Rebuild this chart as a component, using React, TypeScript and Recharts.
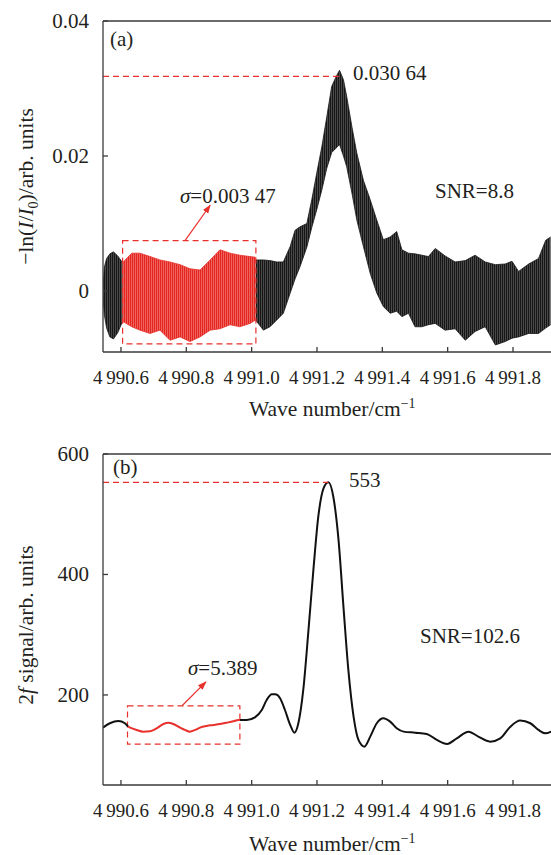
import React from 'react';
import { ComposedChart, Area, Line, XAxis, YAxis, ReferenceLine, ReferenceArea } from 'recharts';

const FONT = "'Liberation Serif', 'Times New Roman', Times, serif";
const INK = '#231f20';
const RED = '#e8302c';
const AXIS = '#3a3a3a';
const TXT = { fontFamily: FONT };

// ---------- shared x axis ----------
const xDomain: [number, number] = [4990.545, 4991.9255];
const xTicks = [4990.6, 4990.8, 4991.0, 4991.2, 4991.4, 4991.6, 4991.8];
const xTickLabels = ['4\u2009990.6', '4\u2009990.8', '4\u2009991.0', '4\u2009991.2', '4\u2009991.4', '4\u2009991.6', '4\u2009991.8'];

// ---------- panel (a): absorbance band (envelope of the fringe-modulated trace) ----------
const absYDomain: [number, number] = [-0.00904, 0.04];
const absYTicks = [0, 0.02, 0.04];
const absYTickLabels = ['0', '0.02', '0.04'];

const absLeftW = [4990.545, 4990.549, 4990.556, 4990.566, 4990.577, 4990.59, 4990.605];
const absLeftHi = [0.0005, 0.0035, 0.0048, 0.0055, 0.0058, 0.0052, 0.0042];
const absLeftLo = [-0.0008, -0.0035, -0.0055, -0.0068, -0.0071, -0.0062, -0.0045];

const absRedW = [4990.605, 4990.633, 4990.658, 4990.689, 4990.719, 4990.75, 4990.781, 4990.811, 4990.842, 4990.873, 4990.903, 4990.934, 4990.964, 4990.995, 4991.012];
const absRedHi = [0.0042, 0.0056, 0.0056, 0.0051, 0.0046, 0.0043, 0.0039, 0.0033, 0.0031, 0.0046, 0.0061, 0.0056, 0.0053, 0.0051, 0.005];
const absRedLo = [-0.0045, -0.0053, -0.0058, -0.0063, -0.0058, -0.0073, -0.0068, -0.0075, -0.0068, -0.0058, -0.0056, -0.005, -0.0053, -0.0048, -0.0043];

const absRightW = [4991.012, 4991.036, 4991.056, 4991.077, 4991.097, 4991.118, 4991.133, 4991.148, 4991.169, 4991.184, 4991.199, 4991.215, 4991.23, 4991.245, 4991.259, 4991.269, 4991.281, 4991.291, 4991.307, 4991.322, 4991.342, 4991.363, 4991.383, 4991.403, 4991.424, 4991.444, 4991.46, 4991.48, 4991.5, 4991.521, 4991.541, 4991.562, 4991.592, 4991.623, 4991.654, 4991.684, 4991.715, 4991.746, 4991.776, 4991.797, 4991.817, 4991.848, 4991.878, 4991.9, 4991.915];
const absRightHi = [0.0046, 0.0046, 0.0045, 0.0043, 0.0043, 0.0066, 0.009, 0.0095, 0.01, 0.0135, 0.0174, 0.0214, 0.0258, 0.0303, 0.0318, 0.0327, 0.0313, 0.0288, 0.0243, 0.0204, 0.0164, 0.0135, 0.0105, 0.0076, 0.008, 0.0088, 0.0061, 0.0056, 0.0055, 0.0053, 0.0051, 0.0063, 0.0052, 0.0043, 0.0045, 0.0053, 0.0043, 0.0039, 0.004, 0.0044, 0.0029, 0.004, 0.0048, 0.0075, 0.008];
const absRightLo = [-0.0043, -0.0058, -0.0053, -0.0043, -0.0033, -0.0003, 0.0018, 0.0036, 0.0065, 0.0094, 0.012, 0.015, 0.0182, 0.0205, 0.0212, 0.0217, 0.02, 0.0184, 0.0145, 0.0105, 0.0066, 0.0026, -0.0003, -0.0023, -0.0033, -0.003, -0.0038, -0.0033, -0.0053, -0.0053, -0.005, -0.0048, -0.0058, -0.0056, -0.0073, -0.006, -0.0053, -0.008, -0.0075, -0.007, -0.0068, -0.0063, -0.0063, -0.0055, -0.005];

const absPeakX = 4991.271;
const absPeakLine = 0.0318;
const absNoiseBox = { x1: 4990.605, x2: 4991.013, y1: -0.00785, y2: 0.00745 };
const absArrow = { x1: 4990.796, y1: 0.00745, x2: 4990.873, y2: 0.0127 };

// ---------- panel (b): 2f signal ----------
const sigYDomain: [number, number] = [50.5, 600];
const sigYTicks = [200, 400, 600];
const sigYTickLabels = ['200', '400', '600'];

const sigLeftW = [4990.545, 4990.566, 4990.592, 4990.612, 4990.622];
const sigLeftV = [145.8, 153, 156.8, 153, 147.4];

const sigRedW = [4990.622, 4990.628, 4990.648, 4990.668, 4990.689, 4990.709, 4990.73, 4990.745, 4990.76, 4990.781, 4990.796, 4990.811, 4990.827, 4990.842, 4990.862, 4990.883, 4990.903, 4990.924, 4990.944, 4990.959, 4990.964];
const sigRedV = [147.4, 145.8, 141.9, 139.1, 139.8, 144.6, 151.8, 154, 151.8, 145.8, 141.9, 139.1, 141.9, 145.8, 148.6, 150.2, 151.8, 154, 156.3, 158.5, 158.5];

const sigRightW = [4990.964, 4990.985, 4991.01, 4991.031, 4991.046, 4991.062, 4991.072, 4991.087, 4991.102, 4991.118, 4991.131, 4991.143, 4991.158, 4991.174, 4991.189, 4991.204, 4991.22, 4991.235, 4991.25, 4991.266, 4991.281, 4991.296, 4991.312, 4991.327, 4991.345, 4991.363, 4991.383, 4991.403, 4991.424, 4991.444, 4991.465, 4991.501, 4991.536, 4991.567, 4991.598, 4991.628, 4991.664, 4991.694, 4991.73, 4991.761, 4991.792, 4991.822, 4991.853, 4991.878, 4991.899, 4991.917];
const sigRightV = [158.5, 158.5, 162.9, 175, 191.7, 201, 201, 194.5, 175, 150.2, 137.4, 153, 208.3, 307.9, 407.5, 496, 543, 553, 529, 457, 346.6, 241.5, 164, 125.3, 114.2, 130.8, 153, 161.3, 155.7, 144.6, 139.1, 137.4, 135.3, 125.3, 118.7, 128, 139.1, 130.8, 122.5, 128, 147.4, 157.4, 153, 141.9, 136.3, 139.1];

const sigPeakX = 4991.235;
const sigPeakLine = 553;
const sigNoiseBox = { x1: 4990.62, x2: 4990.964, y1: 118.2, y2: 182 };
const sigArrow = { x1: 4990.787, y1: 182, x2: 4990.86, y2: 221.6 };

// ---------- builders ----------
const band = (w: number[], lo: number[], hi: number[]) => w.map((x, i) => ({ w: x, band: [lo[i], hi[i]] }));
const series = (w: number[], v: number[]) => w.map((x, i) => ({ w: x, v: v[i] }));

const absLeftData = band(absLeftW, absLeftLo, absLeftHi);
const absRedData = band(absRedW, absRedLo, absRedHi);
const absRightData = band(absRightW, absRightLo, absRightHi);
const sigLeftData = series(sigLeftW, sigLeftV);
const sigRedData = series(sigRedW, sigRedV);
const sigRightData = series(sigRightW, sigRightV);

const labelFor = (ticks: number[], labels: string[], v: number) => {
  let best = 0;
  ticks.forEach((t, i) => { if (Math.abs(t - v) < Math.abs(ticks[best] - v)) best = i; });
  return labels[best];
};

const XTick = (props: any) => {
  const { x, y, payload } = props;
  return (
    <g>
      <line x1={x} y1={y} x2={x} y2={y - 5} stroke={AXIS} strokeWidth={1.3} />
      <text x={x} y={y + 32} textAnchor="middle" style={TXT} fontSize={19} fill={INK}>
        {labelFor(xTicks, xTickLabels, payload.value)}
      </text>
    </g>
  );
};

const makeYTick = (ticks: number[], labels: string[]) => (props: any) => {
  const { x, y, payload } = props;
  return (
    <g>
      <line x1={x} y1={y} x2={x + 5} y2={y} stroke={AXIS} strokeWidth={1.3} />
      <text x={x - 14} y={y + 7} textAnchor="end" style={TXT} fontSize={21} fill={INK}>
        {labelFor(ticks, labels, payload.value)}
      </text>
    </g>
  );
};

const arrowShape = (p: any) => (
  <line x1={p.x1} y1={p.y1} x2={p.x2} y2={p.y2} stroke={RED} strokeWidth={1.2} markerEnd="url(#arrowHeadRed)" />
);

const dashed = { stroke: RED, strokeWidth: 1.2, strokeDasharray: '6 4' };

export default function App() {
  return (
    <div style={{ position: 'absolute', left: 0, top: 0, width: 551, height: 855, overflow: 'hidden', background: '#fff', fontFamily: FONT }}>
      <svg width={0} height={0} style={{ position: 'absolute' }}>
        <defs>
          <pattern id="blackStripes" patternUnits="userSpaceOnUse" width="2" height="8">
            <rect width="2" height="8" fill="#555555" />
            <rect width="1.2" height="8" fill="#161616" />
          </pattern>
          <pattern id="redStripes" patternUnits="userSpaceOnUse" width="2" height="8">
            <rect width="2" height="8" fill="#f1746c" />
            <rect width="1.2" height="8" fill="#e3241f" />
          </pattern>
          <marker id="arrowHeadRed" markerUnits="userSpaceOnUse" markerWidth="9" markerHeight="8" refX="8" refY="4" orient="auto">
            <path d="M0,0.8 L9,4 L0,7.2 z" fill={RED} />
          </marker>
        </defs>
      </svg>

      <div style={{ position: 'absolute', left: 0, top: 0 }}>
        <ComposedChart width={556} height={430} margin={{ top: 21, right: 2, bottom: 0, left: 0 }}>
          <XAxis type="number" dataKey="w" domain={xDomain} ticks={xTicks} allowDataOverflow height={78}
            tickSize={0} tickMargin={0} tickLine={false} tick={<XTick />} axisLine={{ stroke: AXIS, strokeWidth: 1.3 }} />
          <YAxis type="number" domain={absYDomain} ticks={absYTicks} allowDataOverflow width={103}
            tickSize={0} tickMargin={0} tickLine={false} tick={makeYTick(absYTicks, absYTickLabels)} axisLine={{ stroke: AXIS, strokeWidth: 1.3 }} />
          <ReferenceLine y={absYDomain[1]} stroke={AXIS} strokeWidth={1.3} />
          <Area data={absLeftData} dataKey="band" type="linear" stroke="#161616" strokeWidth={0.8} fill="url(#blackStripes)" fillOpacity={1} dot={false} activeDot={false} isAnimationActive={false} />
          <Area data={absRightData} dataKey="band" type="linear" stroke="#161616" strokeWidth={0.8} fill="url(#blackStripes)" fillOpacity={1} dot={false} activeDot={false} isAnimationActive={false} />
          <Area data={absRedData} dataKey="band" type="linear" stroke={RED} strokeWidth={0.8} fill="url(#redStripes)" fillOpacity={1} dot={false} activeDot={false} isAnimationActive={false} />
          <ReferenceLine segment={[{ x: xDomain[0], y: absPeakLine }, { x: absPeakX, y: absPeakLine }]} {...dashed} />
          <ReferenceArea x1={absNoiseBox.x1} x2={absNoiseBox.x2} y1={absNoiseBox.y1} y2={absNoiseBox.y2} fill="none" fillOpacity={0} {...dashed} />
          <ReferenceLine segment={[{ x: absArrow.x1, y: absArrow.y1 }, { x: absArrow.x2, y: absArrow.y2 }]} shape={arrowShape} />
        </ComposedChart>
      </div>

      <div style={{ position: 'absolute', left: 0, top: 430 }}>
        <ComposedChart width={556} height={425} margin={{ top: 24, right: 2, bottom: 0, left: 0 }}>
          <XAxis type="number" dataKey="w" domain={xDomain} ticks={xTicks} allowDataOverflow height={70}
            tickSize={0} tickMargin={0} tickLine={false} tick={<XTick />} axisLine={{ stroke: AXIS, strokeWidth: 1.3 }} />
          <YAxis type="number" domain={sigYDomain} ticks={sigYTicks} allowDataOverflow width={103}
            tickSize={0} tickMargin={0} tickLine={false} tick={makeYTick(sigYTicks, sigYTickLabels)} axisLine={{ stroke: AXIS, strokeWidth: 1.3 }} />
          <ReferenceLine y={sigYDomain[1]} stroke={AXIS} strokeWidth={1.3} />
          <Line data={sigLeftData} dataKey="v" type="monotone" stroke="#111" strokeWidth={2} dot={false} activeDot={false} isAnimationActive={false} />
          <Line data={sigRightData} dataKey="v" type="monotone" stroke="#111" strokeWidth={2} dot={false} activeDot={false} isAnimationActive={false} />
          <Line data={sigRedData} dataKey="v" type="monotone" stroke={RED} strokeWidth={2} dot={false} activeDot={false} isAnimationActive={false} />
          <ReferenceLine segment={[{ x: xDomain[0], y: sigPeakLine }, { x: sigPeakX, y: sigPeakLine }]} {...dashed} />
          <ReferenceArea x1={sigNoiseBox.x1} x2={sigNoiseBox.x2} y1={sigNoiseBox.y1} y2={sigNoiseBox.y2} fill="none" fillOpacity={0} {...dashed} />
          <ReferenceLine segment={[{ x: sigArrow.x1, y: sigArrow.y1 }, { x: sigArrow.x2, y: sigArrow.y2 }]} shape={arrowShape} />
        </ComposedChart>
      </div>

      <svg width={551} height={855} style={{ position: 'absolute', left: 0, top: 0, pointerEvents: 'none', fontFamily: FONT }} fill={INK}>
        <text x={110} y={46} fontSize={21} style={TXT}>(a)</text>
        <text x={353} y={80} fontSize={21} style={TXT}>0.030 64</text>
        <text x={435} y={198} fontSize={21} style={TXT}>SNR=8.8</text>
        <text x={180} y={203} fontSize={21} style={TXT}><tspan fontStyle="italic">σ</tspan>=0.003 47</text>
        <text x={249} y={416} fontSize={21.5} style={TXT}>Wave number/cm<tspan dy={-8} fontSize={14}>−1</tspan></text>
        <text transform="translate(33,186.5) rotate(-90)" textAnchor="middle" fontSize={21.5} style={TXT}>
          −ln(<tspan fontStyle="italic">I</tspan>/<tspan fontStyle="italic">I</tspan><tspan dy={5} fontSize={14}>0</tspan><tspan dy={-5}>)/arb. units</tspan>
        </text>

        <text x={113} y={474} fontSize={21} style={TXT}>(b)</text>
        <text x={349} y={487} fontSize={21} style={TXT}>553</text>
        <text x={420} y={643} fontSize={21} style={TXT}>SNR=102.6</text>
        <text x={188} y={675} fontSize={21} style={TXT}><tspan fontStyle="italic">σ</tspan>=5.389</text>
        <text x={249} y={851} fontSize={21.5} style={TXT}>Wave number/cm<tspan dy={-8} fontSize={14}>−1</tspan></text>
        <text transform="translate(33,625) rotate(-90)" textAnchor="middle" fontSize={21.5} style={TXT}>
          2<tspan fontStyle="italic">f</tspan> signal/arb. units
        </text>
      </svg>
    </div>
  );
}
